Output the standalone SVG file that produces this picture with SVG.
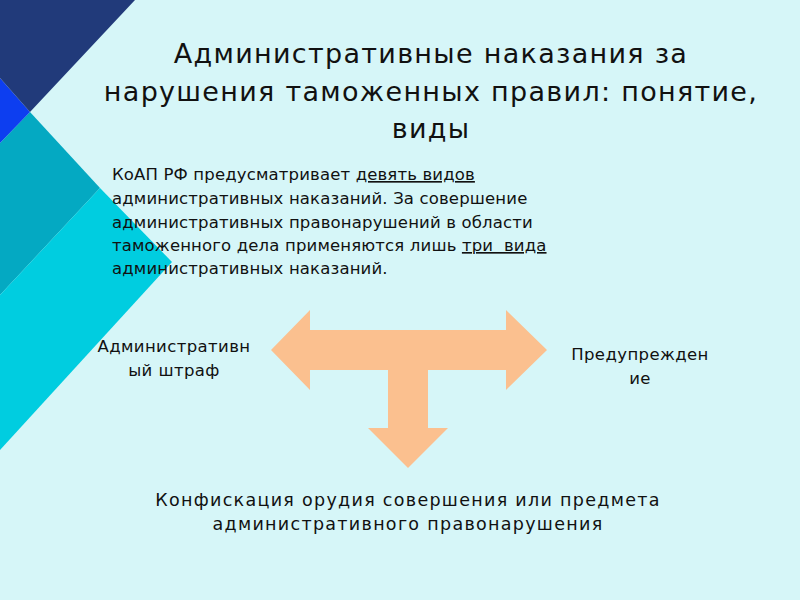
<svg xmlns="http://www.w3.org/2000/svg" width="800" height="600" viewBox="0 0 800 600">
<style>
text{font-family:"DejaVu Sans","Noto Sans",sans-serif;fill:#111;white-space:pre;}
.t{font-size:27px;text-anchor:middle;letter-spacing:1.3px;}
.b{font-size:16.5px;letter-spacing:0.15px;}
.l{font-size:16.5px;text-anchor:middle;letter-spacing:0.4px;}
.c{font-size:17.5px;letter-spacing:1.3px;}
</style>
<rect width="800" height="600" fill="#d6f6f8"/>
<g id="decor">
<polygon points="0,143 30,112 100,188 0,295" fill="#04a9c2"/>
<polygon points="0,78 30,112 0,143" fill="#0d3ef0"/>
<polygon points="0,0 135,0 30,112 0,78" fill="#213a7a"/>
<polygon points="100,188 172,262 0,450 0,295" fill="#00cde0"/>
</g>
<g id="title">
<text class="t" x="431" y="63">Административные наказания за</text>
<text class="t" x="431" y="101">нарушения таможенных правил: понятие,</text>
<text class="t" x="431" y="138">виды</text>
</g>
<g id="intro">
<text class="b" x="112" y="180">КоАП РФ предусматривает <tspan text-decoration="underline">девять видов</tspan></text>
<text class="b" x="112" y="204">административных наказаний. За совершение</text>
<text class="b" x="112" y="228">административных правонарушений в области</text>
<text class="b" x="112" y="251">таможенного дела применяются лишь <tspan text-decoration="underline">три  вида</tspan></text>
<text class="b" x="112" y="274">административных наказаний.</text>
</g>
<g id="connectors">
<polygon points="271,350 310,310 310,330 506,330 506,310 547,350 506,390 506,370 428,370 428,428 448,428 408,468 368,428 388,428 388,370 310,370 310,390" fill="#fbc08f"/>
</g>
<g id="node-fine">
<text class="l" x="174" y="352">Административн</text>
<text class="l" x="174" y="376">ый штраф</text>
</g>
<g id="node-warning">
<text class="l" x="640" y="360">Предупрежден</text>
<text class="l" x="640" y="384">ие</text>
</g>
<g id="node-confiscation">
<text class="l c" x="408" y="506">Конфискация орудия совершения или предмета</text>
<text class="l c" x="408" y="530">административного правонарушения</text>
</g>
</svg>
